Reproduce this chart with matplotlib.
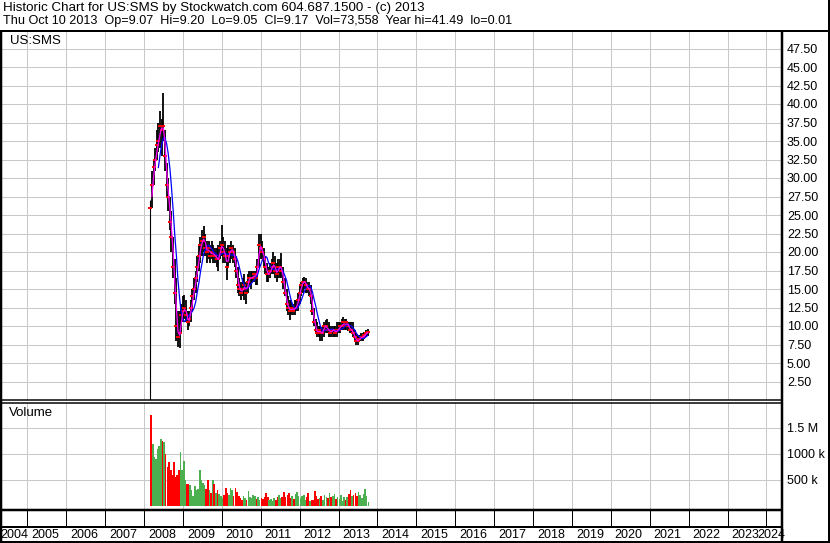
import numpy as np
import pandas as pd
import matplotlib
matplotlib.use('Agg')
import matplotlib.pyplot as plt
from matplotlib.lines import Line2D

plt.rcParams['font.family'] = ['Liberation Sans', 'DejaVu Sans']

# semi-monthly bars, Mar 2008 .. Oct 2013
dates = pd.date_range('2008-03-01', '2013-10-01', freq='SMS')

highs = [27, 31, 32.5, 34, 36.5, 37.5, 39, 38, 41.5, 36.5, 32, 30, 27.5, 25.5, 22, 19, 16.5, 12, 12, 13,
         14, 14.2, 13.5, 12, 12, 13.5, 15, 16.5, 17.5, 19.5, 21, 22, 23, 23.5, 22.5, 21.5, 21.5, 21, 21.5, 21, 20.5, 20.5, 21, 21.5,
         23.6, 22, 21.5, 20.5, 21, 21, 21.5, 21, 20.5, 19.5, 18, 16.5, 16, 16.5, 17, 16, 17, 17.5, 17.5, 17.5, 17.5, 17.5, 19, 22.4,
         22.5, 21.5, 20.5, 19.5, 18.5, 18, 18.5, 19, 20, 19.5, 18.5, 19, 19, 19.8, 18, 16.5, 15, 14, 13.5, 13.5, 13, 13.5, 13.5, 14.5,
         15.5, 16, 16.5, 16.6, 16.5, 16, 16, 15.5, 14, 12.5, 11, 10.5, 10, 10, 9.8, 10.5, 10.8, 11, 10.5, 10, 10, 10, 10, 10.5,
         10.5, 10.5, 11, 11.2, 11, 11, 10.5, 10.5, 10.5, 10.5, 9.5, 9, 8.8, 8.8, 9, 9, 9.2, 9.5, 9.6]
lows = [0.01, 26, 29, 31, 32.5, 33.5, 34, 33, 35, 31, 27.5, 25.5, 23, 20, 16.5, 13, 8, 7.2, 7, 9,
        10.5, 11, 10.5, 9.5, 10, 10.5, 12, 13.5, 14.5, 16, 17.5, 18.5, 19.5, 20, 19.5, 18.5, 19, 18.5, 19, 18.5, 18.5, 18, 17.5, 19,
        19.5, 18.5, 18.5, 16.2, 18, 18.5, 19, 18.5, 18, 16.5, 14.5, 14, 13.5, 14, 13.5, 13, 14.5, 15.5, 15, 16, 16, 15.5, 15.5, 18,
        19, 19, 18, 17, 16, 16, 16.5, 17, 17, 16.5, 16, 16.5, 16.5, 16.5, 15, 14, 12, 11.5, 10.8, 11.5, 11.5, 11.5, 12, 12,
        13, 14, 14.5, 15, 14.5, 14.5, 14, 13, 11.5, 10, 9, 8.5, 8.5, 8, 8, 8.5, 9, 9, 8.5, 8.5, 8.5, 8.5, 8.5, 8.5,
        9, 9, 9.5, 9.5, 9.5, 9.5, 9.3, 9, 9, 8.5, 8, 7.5, 7.5, 7.8, 8, 8, 8.2, 8.5, 8.7]
closes = [26, 29, 31.5, 32.5, 34.5, 35, 37, 36.5, 37, 33, 29, 27.5, 24, 22, 18, 14.5, 10, 8.5, 9, 11.5,
          12, 12.5, 11.5, 10.5, 11, 12.5, 14, 15, 16.5, 18, 19.5, 21, 21.5, 22, 20.5, 20, 20.5, 19.5, 20, 19.5, 19.5, 19, 19, 20.5,
          21, 20, 19.5, 18, 19.5, 20, 20.5, 20, 19, 17.5, 15.5, 15, 14.5, 15, 15.5, 14.5, 16, 16.5, 16.5, 16.5, 17, 16.5, 18, 21,
          20.5, 20, 19, 18, 17, 17, 17.5, 18, 18.5, 17.5, 17, 18, 18, 17.5, 16, 14.5, 13, 12.5, 12, 12.5, 12, 12.5, 12.5, 13.5,
          14.5, 15.5, 16, 16, 15.5, 15, 15, 14, 12, 10.5, 9.5, 9, 9.5, 9, 9, 10, 10, 9.5, 9.5, 9, 9.5, 9.5, 9, 9.5,
          9.5, 10, 10, 10.5, 10, 10.5, 10, 9.5, 9.5, 9, 8.5, 8, 8, 8.3, 8.5, 8.5, 8.8, 9, 9.17]
# volume in thousands of shares
volume = [1750, 1200, 950, 900, 1100, 1150, 1280, 1250, 1230, 1000, 750, 850, 700, 600, 850, 550, 600, 700, 1040, 700,
          870, 500, 420, 430, 400, 300, 200, 380, 300, 320, 690, 500, 450, 400, 320, 500, 300, 250, 500, 430, 250, 300, 230, 200,
          150, 220, 340, 250, 220, 340, 300, 200, 340, 260, 200, 150, 120, 200, 160, 110, 290, 180, 150, 220, 200, 130, 180, 120,
          160, 140, 180, 250, 170, 120, 140, 100, 150, 110, 180, 220, 150, 170, 270, 180, 210, 250, 150, 200, 140, 240, 270, 190,
          160, 200, 220, 120, 180, 250, 100, 120, 110, 280, 200, 140, 160, 200, 120, 220, 180, 150, 250, 170, 200, 240, 140, 180,
          130, 210, 100, 180, 120, 180, 230, 300, 200, 220, 250, 200, 260, 220, 160, 240, 330, 200, 80]

years = list(range(2004, 2025))
price_ticks = np.arange(2.5, 48, 2.5)
vol_ticks = [500, 1000, 1500]
vol_labels = ['500 k', '1000 k', '1.5 M']

W, H = 830, 543
fig = plt.figure(figsize=(W / 100, H / 100), dpi=100)

def box(x0, y0, x1, y1):
    return [x0 / W, 1 - y1 / H, (x1 - x0) / W, (y1 - y0) / H]

def hl(y, x0, x1, px=1.0, c='black'):
    fig.add_artist(Line2D([x0 / W, x1 / W], [1 - y / H, 1 - y / H], color=c, lw=px * 0.72, solid_capstyle='butt'))

def vl(x, y0, y1, px=1.0, c='black'):
    fig.add_artist(Line2D([x / W, x / W], [1 - y0 / H, 1 - y1 / H], color=c, lw=px * 0.72, solid_capstyle='butt'))

t = np.array([d.year + (d.dayofyear - 1) / 365.25 for d in dates])
close_s = pd.Series(closes)
ma_short = close_s.rolling(2).mean()
ma_long = close_s.rolling(6).mean()
up = np.diff(np.array(closes), prepend=99) >= 0
vol_colors = np.where(up, '#4cb050', '#ff0000')

# pixel -> year mapping of the x axis
x_left = 2005 + (2 - 27.3) / 38.9
x_right = 2005 + (782 - 27.3) / 38.9
grid_c = '#c8c8c8'

# price panel
ax1 = fig.add_axes(box(2, 31, 782, 400))
ax1.set_xlim(x_left, x_right)
ax1.set_ylim(0, (400 - 31) / 7.4)
for s in ax1.spines.values():
    s.set_visible(False)
for v in price_ticks:
    ax1.axhline(v, color=grid_c, lw=0.72, zorder=0)
for yr in years[1:]:
    ax1.axvline(yr, color=grid_c, lw=0.72, zorder=0)
ax1.vlines(t[0], lows[0], highs[0], colors='black', lw=0.8)
ax1.vlines(t[1:], lows[1:], highs[1:], colors='black', lw=1.3)
ax1.plot(t, closes, ls='none', marker='_', ms=3, mew=1.4, color='red')
ax1.plot(t, ma_long, color='#0000ff', lw=0.9)
ax1.plot(t, ma_short, color='#ff00ff', lw=0.9)
ax1.set_xticks([])
ax1.yaxis.tick_right()
ax1.set_yticks(price_ticks)
ax1.set_yticklabels(['%.2f' % v for v in price_ticks])
ax1.tick_params(axis='y', length=0, pad=3.6, labelsize=9)
ax1.text(8 / 780, 1 - 10 / 369, 'US:SMS', transform=ax1.transAxes, fontsize=9.5, va='center')

# volume panel
ax2 = fig.add_axes(box(2, 403, 782, 509))
ax2.set_xlim(x_left, x_right)
ax2.set_ylim(-58, 1980)
for s in ax2.spines.values():
    s.set_visible(False)
for v in vol_ticks:
    ax2.axhline(v, color=grid_c, lw=0.72, zorder=0)
for yr in years[1:]:
    ax2.axvline(yr, color=grid_c, lw=0.72, zorder=0)
ax2.bar(t, volume, width=1 / 24, color=vol_colors, align='edge')
ax2.set_xticks([])
ax2.yaxis.tick_right()
ax2.set_yticks(vol_ticks)
ax2.set_yticklabels(vol_labels)
ax2.tick_params(axis='y', length=0, pad=3.6, labelsize=9)
ax2.text(7 / 780, 1 - 10 / 106, 'Volume', transform=ax2.transAxes, fontsize=9.5, va='center')

# header
fig.text(3 / W, 1 - 8 / H, 'Historic Chart for US:SMS by Stockwatch.com 604.687.1500 - (c) 2013',
         fontsize=9.6, va='center')
fig.text(3 / W, 1 - 21 / H, 'Thu Oct 10 2013  Op=9.07  Hi=9.20  Lo=9.05  Cl=9.17  Vol=73,558  Year hi=41.49  lo=0.01',
         fontsize=9.1, va='center')

# year strip
for yr in years:
    gx = 27.3 + (yr - 2005) * 38.9
    if yr > 2004:
        vl(gx, 510, 527, 1)
    if yr == 2004:
        fig.text(0.5 / W, 1 - 535 / H, str(yr), fontsize=9, va='center', ha='left')
    elif yr == 2024:
        fig.text(785 / W, 1 - 535 / H, str(yr), fontsize=9, va='center', ha='right')
    else:
        fig.text((gx + 4) / W, 1 - 535 / H, str(yr), fontsize=9, va='center', ha='left')

# frame lines
hl(30.5, 0, W, 2)
hl(400, 0, 782, 1.5)
hl(403, 0, 782, 1.5)
hl(509.5, 0, 782, 2.5)
hl(527, 0, 782, 2)
hl(541.5, 0, W, 2)
vl(1, 30, 543, 2.5)
vl(782, 30, 542, 2.5)
vl(828.5, 0, 542, 2)

fig.savefig('out.png', dpi=100)
